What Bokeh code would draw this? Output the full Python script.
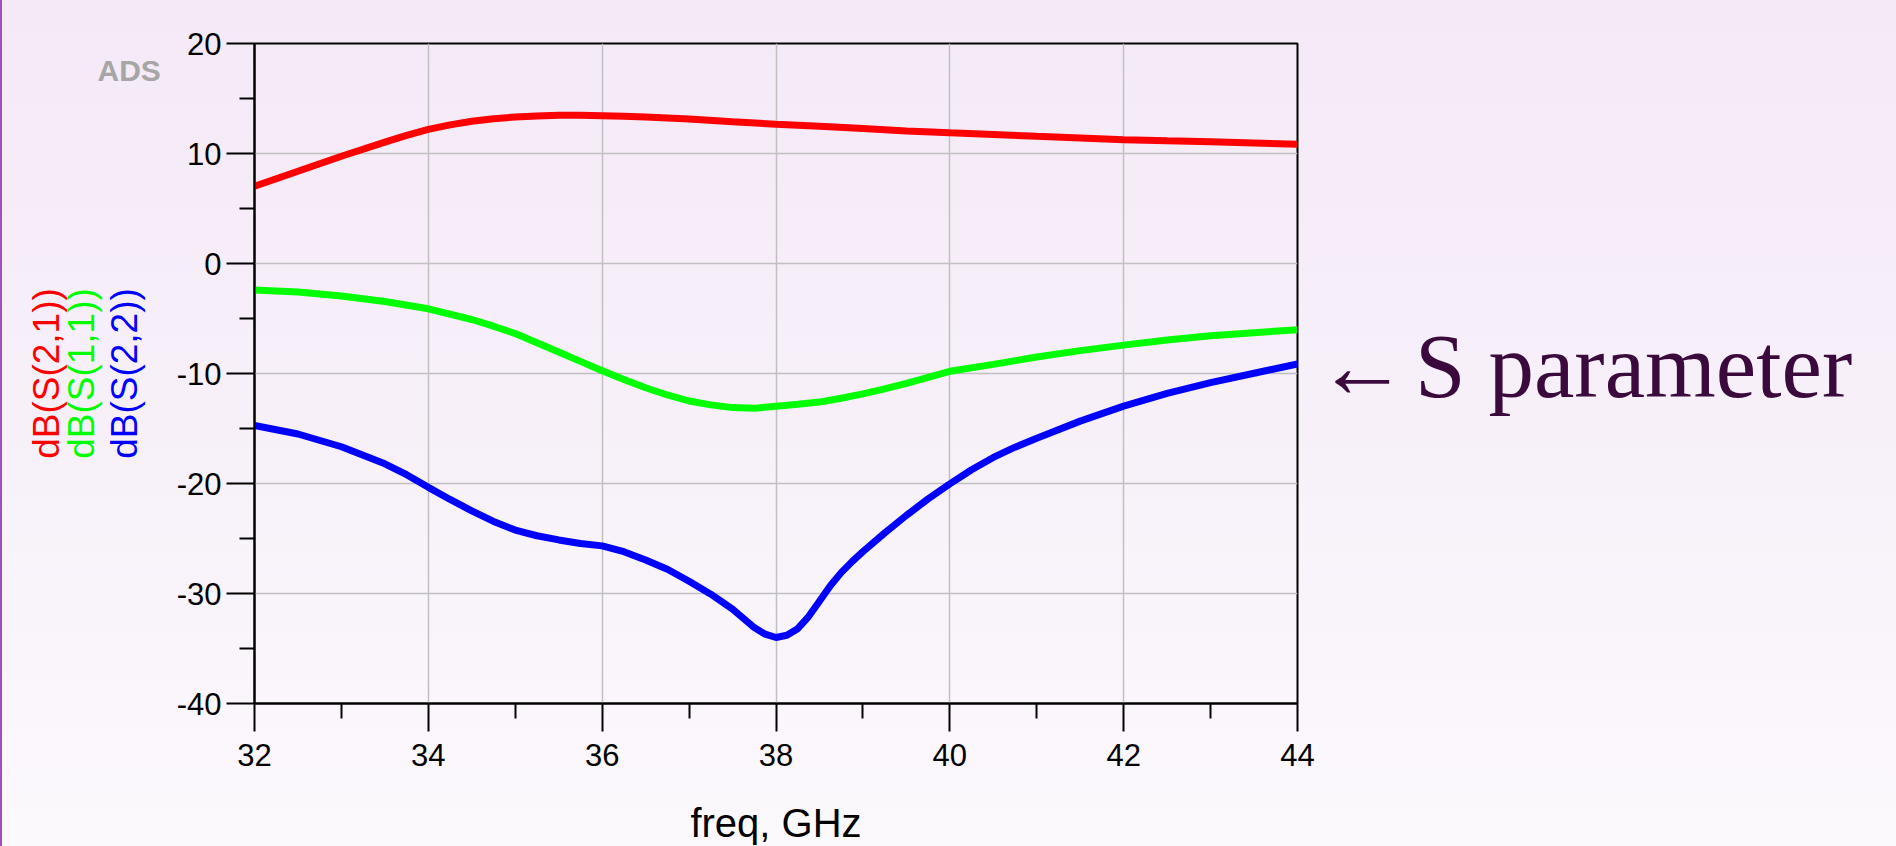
from bokeh.plotting import figure
from bokeh.models import Range1d, FixedTicker, Title
from bokeh.embed import file_html
from bokeh.resources import INLINE

# ---- data ----
freq_s21 = [32, 32.5, 33, 33.5, 33.75, 34, 34.25, 34.5, 34.75, 35, 35.25, 35.5, 35.75,
            36, 36.25, 36.5, 37, 37.5, 38, 38.5, 39, 39.5, 40, 40.5, 41, 41.5, 42,
            42.5, 43, 43.5, 44]
db_s21 = [7.03, 8.39, 9.75, 11.03, 11.65, 12.19, 12.60, 12.93, 13.15, 13.32, 13.42,
          13.48, 13.48, 13.44, 13.39, 13.32, 13.13, 12.89, 12.66, 12.47, 12.27, 12.04,
          11.88, 11.73, 11.57, 11.42, 11.26, 11.15, 11.07, 10.95, 10.83]

freq_s11 = [32, 32.5, 33, 33.5, 34, 34.5, 34.75, 35, 35.25, 35.5, 35.75, 36, 36.25,
            36.5, 36.75, 37, 37.25, 37.5, 37.75, 38, 38.25, 38.5, 38.75, 39, 39.25,
            39.5, 39.75, 40, 40.5, 41, 41.5, 42, 42.5, 43, 43.5, 44]
db_s11 = [-2.41, -2.60, -2.95, -3.46, -4.12, -5.09, -5.70, -6.37, -7.20, -8.04,
          -8.90, -9.75, -10.55, -11.30, -11.95, -12.50, -12.85, -13.10, -13.17, -12.97,
          -12.80, -12.60, -12.25, -11.85, -11.40, -10.90, -10.35, -9.80, -9.17, -8.50,
          -7.92, -7.42, -6.95, -6.56, -6.29, -6.02]

freq_s22 = [32, 32.5, 33, 33.5, 33.75, 34, 34.25, 34.5, 34.75, 35, 35.25, 35.5, 35.75,
            36, 36.25, 36.5, 36.75, 37, 37.25, 37.5, 37.75, 37.875, 38, 38.125, 38.25,
            38.375, 38.5, 38.625, 38.75, 38.875, 39, 39.25, 39.5, 39.75, 40, 40.25,
            40.5, 40.75, 41, 41.5, 42, 42.5, 43, 43.5, 44]
db_s22 = [-14.72, -15.50, -16.66, -18.21, -19.20, -20.35, -21.45, -22.49, -23.45,
          -24.23, -24.75, -25.13, -25.45, -25.67, -26.20, -26.95, -27.80, -28.89,
          -30.06, -31.42, -33.10, -33.70, -34.00, -33.80, -33.20, -32.10, -30.70,
          -29.30, -28.10, -27.10, -26.20, -24.50, -22.90, -21.40, -20.04, -18.75,
          -17.63, -16.70, -15.88, -14.33, -12.97, -11.81, -10.83, -9.98, -9.13]

x_major = [32, 34, 36, 38, 40, 42, 44]
x_minor = [33, 35, 37, 39, 41, 43]
y_major = [-40, -30, -20, -10, 0, 10, 20]
y_minor = [-35, -25, -15, -5, 5, 15]
x_labels = ["32", "34", "36", "38", "40", "42", "44"]
y_labels = ["-40", "-30", "-20", "-10", "0", "10", "20"]

series_names = ["dB(S(2,1))", "dB(S(1,1))", "dB(S(2,2))"]
series_colors = ["#ff0000", "#00ff00", "#0000ff"]
x_title = "freq, GHz"
side_note = "\u2190\u200aS parameter"
brand = "ADS"

FONT = "Liberation Sans"

ads_title = Title(text=brand, align="left", vertical_align="bottom",
                  offset=-157, standoff=-86,
                  text_font=FONT, text_font_size="30px", text_font_style="bold",
                  text_color="#a6a6a6")

p = figure(width=1880, height=838, output_backend="svg", toolbar_location=None,
           x_range=Range1d(32, 44), y_range=Range1d(-40, 20),
           min_border_left=246, min_border_right=591,
           min_border_top=35, min_border_bottom=143, title=ads_title)

p.background_fill_alpha = 0
p.border_fill_alpha = 0
p.outline_line_color = "black"
p.outline_line_width = 2

for ax, maj, mnr, labs, stand in ((p.xaxis, x_major, x_minor, x_labels, 12),
                                  (p.yaxis, y_major, y_minor, y_labels, 5)):
    ax.ticker = FixedTicker(ticks=maj, minor_ticks=mnr)
    ax.major_label_overrides = {v: s for v, s in zip(maj, labs)}
    ax.axis_line_color = "black"
    ax.axis_line_width = 2
    ax.major_tick_out = 28
    ax.major_tick_in = 0
    ax.minor_tick_out = 15
    ax.minor_tick_in = 0
    ax.major_tick_line_color = "black"
    ax.minor_tick_line_color = "black"
    ax.major_tick_line_width = 2
    ax.minor_tick_line_width = 2
    ax.major_label_text_font = FONT
    ax.major_label_text_font_size = "31px"
    ax.major_label_text_color = "black"
    ax.major_label_standoff = stand

# x-axis title, placed through a title entry so it can sit low on the page
p.add_layout(Title(text=x_title, align="center", vertical_align="bottom",
                   standoff=-1603, text_font=FONT, text_font_size="40px",
                   text_font_style="normal", text_color="black"), "above")

# side note to the right of the plot
p.add_layout(Title(text=side_note, align="left", vertical_align="bottom",
                   offset=1062, standoff=-746, text_font="Liberation Serif",
                   text_font_size="91px", text_font_style="normal",
                   text_color="#3b0a3d"), "above")

# y-axis title (closest one: S22)
p.yaxis.axis_label = series_names[2]
p.yaxis.axis_label_text_font = FONT
p.yaxis.axis_label_text_font_size = "37px"
p.yaxis.axis_label_text_font_style = "normal"
p.yaxis.axis_label_text_color = series_colors[2]
p.yaxis.axis_label_standoff = 29

# further y-axis titles (S11, then S21), stacked outward
for name, col, so in ((series_names[1], series_colors[1], -2),
                      (series_names[0], series_colors[0], -14)):
    p.add_layout(Title(text=name, align="center", vertical_align="bottom",
                       standoff=so, text_font=FONT, text_font_size="37px",
                       text_font_style="normal", text_color=col), "left")

for g in (p.xgrid, p.ygrid):
    g.grid_line_color = "#c0c0c0"
    g.grid_line_width = 1.5

p.line(freq_s21, db_s21, line_color=series_colors[0], line_width=7)
p.line(freq_s11, db_s11, line_color=series_colors[1], line_width=7)
p.line(freq_s22, db_s22, line_color=series_colors[2], line_width=7)

html = file_html(p, INLINE)
style = """<style>
html { height: 100%; overflow: hidden;
       background: linear-gradient(to bottom, #f5e9f7 0%, #f7f0f9 50%, #fcf9fd 100%); }
body { margin: 8px 8px 0 8px; background: transparent; }
html::before { content: ""; position: fixed; left: 0; top: 0; width: 2px; height: 100%; background: #a050b8; }
</style>"""
html = html.replace("</head>", style + "</head>", 1)
open("out.html", "w").write(html)
